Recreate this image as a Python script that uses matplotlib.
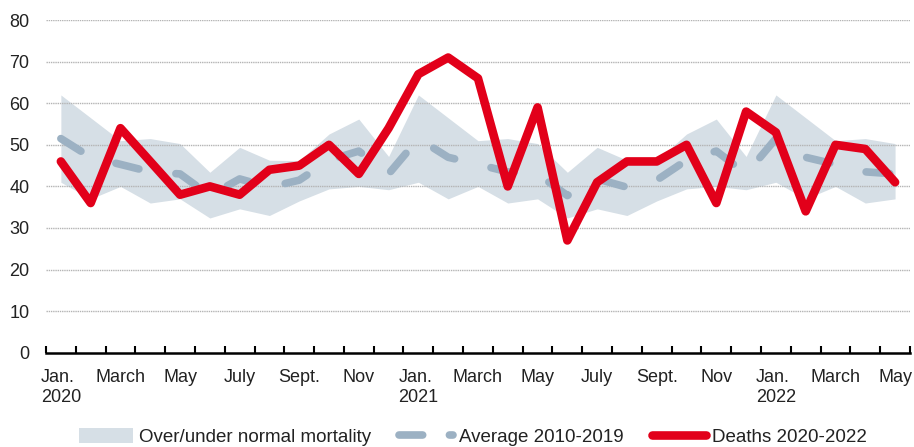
import matplotlib
matplotlib.use("Agg")
import matplotlib.pyplot as plt
from matplotlib.lines import Line2D
from matplotlib.patches import Patch
import numpy as np

plt.rcParams['font.family'] = ['Liberation Sans', 'DejaVu Sans']

months = ["Jan 2020", "Feb 2020", "Mar 2020", "Apr 2020", "May 2020", "Jun 2020",
          "Jul 2020", "Aug 2020", "Sep 2020", "Oct 2020", "Nov 2020", "Dec 2020",
          "Jan 2021", "Feb 2021", "Mar 2021", "Apr 2021", "May 2021", "Jun 2021",
          "Jul 2021", "Aug 2021", "Sep 2021", "Oct 2021", "Nov 2021", "Dec 2021",
          "Jan 2022", "Feb 2022", "Mar 2022", "Apr 2022", "May 2022"]

deaths = [46, 36, 54, 46, 38, 40, 38, 44, 45, 50, 43, 54,
          67, 71, 66, 40, 59, 27, 41, 46, 46, 50, 36, 58,
          53, 34, 50, 49, 41]

average = [51.5, 47, 45.3, 43.5, 43, 37.8, 41.8, 39.8, 41.5, 46.3, 48.5, 43,
           51.5, 47, 45.3, 43.5, 43, 37.8, 41.8, 39.8, 41.5, 46.3, 48.5, 43,
           51.5, 47, 45.3, 43.5, 43]

band_upper = [62, 56.5, 51, 51.5, 50.3, 43.4, 49.4, 46.3, 46.2, 52.6, 56.2, 47.2,
              62, 56.5, 51, 51.5, 50.3, 43.4, 49.4, 46.3, 46.2, 52.6, 56.2, 47.2,
              62, 56.5, 51, 51.5, 50.3]

band_lower = [41, 37, 40, 36, 37, 32.4, 34.6, 33, 36.5, 39.4, 40, 39.2,
              41, 37, 40, 36, 37, 32.4, 34.6, 33, 36.5, 39.4, 40, 39.2,
              41, 37, 40, 36, 37]

tick_labels = ["Jan.\n2020", "March", "May", "July", "Sept.", "Nov",
               "Jan.\n2021", "March", "May", "July", "Sept.", "Nov",
               "Jan.\n2022", "March", "May"]

y_ticks = [0, 10, 20, 30, 40, 50, 60, 70, 80]

legend_labels = ["Over/under normal mortality", "Average 2010-2019", "Deaths 2020-2022"]

RED = '#E2001A'
BAND = '#D6DFE6'
AVG = '#9CB1C3'
FS = 13

fig = plt.figure(figsize=(9.14, 4.47), dpi=100)
ax = fig.add_axes([0.0503, 0.211, 0.9453, 0.744])

x = np.arange(len(months))

ax.fill_between(x, band_lower, band_upper, color=BAND, linewidth=0, zorder=1)
ax.plot(x, average, color=AVG, lw=5.5, dashes=(3.1, 4.9), dash_capstyle='round',
        zorder=3)
ax.plot(x, deaths, color=RED, lw=6.2, solid_joinstyle='round',
        solid_capstyle='round', zorder=4)

ax.set_xlim(-0.5, len(months) - 0.5)
ax.set_ylim(0, 80)

ax.set_yticks(y_ticks)
ax.set_yticklabels([str(v) for v in y_ticks])
for v in y_ticks[1:]:
    ax.axhline(v, color='#b4b4b4', lw=1.0, linestyle=(0, (1, 0.6)), zorder=2)

ax.set_xticks(x[::2])
ax.set_xticklabels(tick_labels)
for lbl in ax.get_xticklabels():
    lbl.set_multialignment('left')
    lbl.set_linespacing(1.2)
ax.set_xticks(np.arange(-0.5, len(months), 1.0), minor=True)

ax.tick_params(axis='x', which='major', length=0, pad=12, labelsize=FS,
               labelcolor='#222222')
ax.tick_params(axis='x', which='minor', direction='in', length=5, width=1.5,
               color='black')
ax.tick_params(axis='y', length=0, pad=12, labelsize=FS, labelcolor='#222222')

for s in ['left', 'right', 'top']:
    ax.spines[s].set_visible(False)
ax.spines['bottom'].set_linewidth(1.8)
ax.spines['bottom'].set_color('black')
ax.spines['bottom'].set_zorder(5)

handles = [
    Patch(facecolor=BAND, edgecolor='none'),
    Line2D([0], [0], color=AVG, lw=5.5, dashes=(3.1, 3.5), dash_capstyle='round'),
    Line2D([0], [0], color=RED, lw=6.2, solid_capstyle='round'),
]
fig.legend(handles, legend_labels, loc='lower center', bbox_to_anchor=(0.517, -0.035),
           ncol=3, frameon=False, fontsize=FS + 0.5, handlelength=2.9,
           handleheight=0.85, handletextpad=0.3, columnspacing=1.5,
           labelcolor='#222222')

fig.savefig('out.png', dpi=100)
